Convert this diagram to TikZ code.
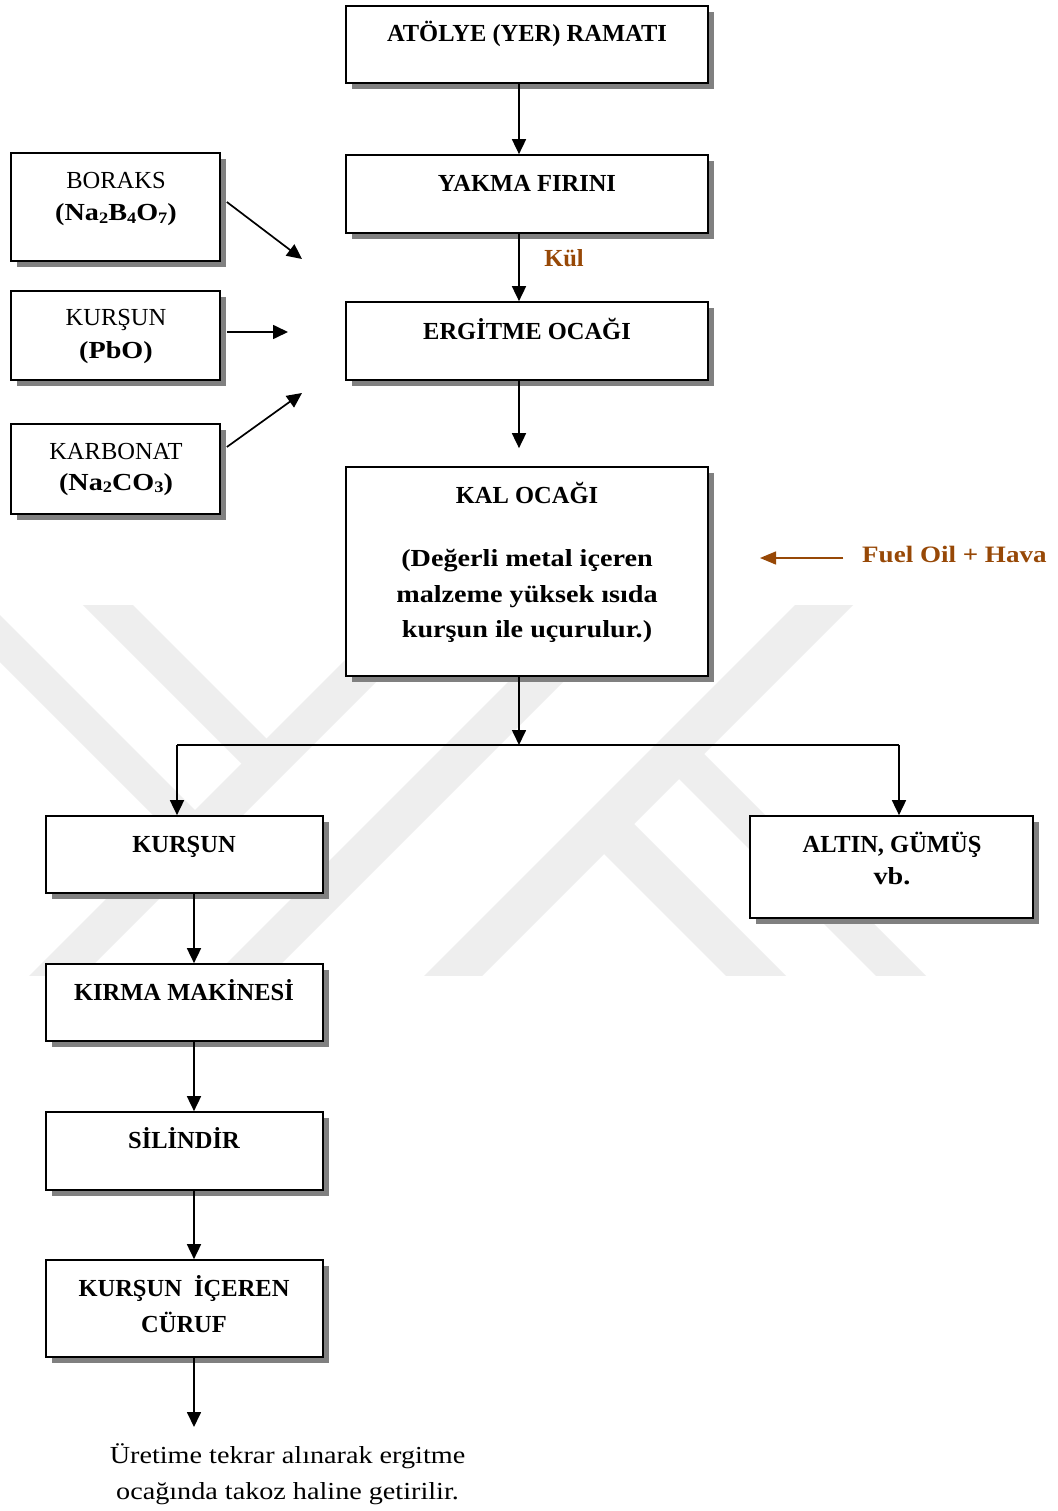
\documentclass[tikz,border=0pt]{standalone}
\usepackage{fontspec}
\setmainfont{Liberation Serif}
\newfontfamily\widefont[FakeStretch=1.15]{Liberation Serif}
\usetikzlibrary{arrows.meta,shadows}
\definecolor{wm}{HTML}{EEEEEE}
\definecolor{shade}{HTML}{808080}
\definecolor{kulbrown}{HTML}{974806}
\newcommand\sbs[1]{\raisebox{-0.1em}{\fontsize{16}{16}\selectfont #1}}
\begin{document}
\begin{tikzpicture}[x=1pt,y=-1pt,
  box/.style={draw=black, line width=1.7pt, fill=white, inner sep=0pt,
    drop shadow={shadow xshift=6pt, shadow yshift=-6pt, fill=shade, opacity=1}},
  bt/.style={font=\fontsize{24.5}{29}\selectfont\bfseries, inner sep=0pt, anchor=base},
  wbt/.style={font=\widefont\fontsize{24.5}{29}\selectfont\bfseries, inner sep=0pt, anchor=base},
  rt/.style={font=\fontsize{24.5}{29}\selectfont, inner sep=0pt, anchor=base},
  wrt/.style={font=\widefont\fontsize{24.5}{29}\selectfont, inner sep=0pt, anchor=base},
  arr/.style={line width=1.7pt, -{Triangle[length=15pt,width=14pt]}},
  wmband/.style={fill=wm}]
\useasboundingbox (0,0) rectangle (1057,1511);
\fill[white] (0,0) rectangle (1057,1511);
% watermark
\begin{scope}
\clip (0,605) rectangle (1057,975);
\fill[wmband] (505,500)--(558,500)--(-42,1100)--(-95,1100)--cycle;
\fill[wmband] (-22,500)--(28,500)--(279,751)--(254,776)--cycle;
\fill[wmband] (-100,515)--(207.5,822.5)--(184,846)--(-100,562)--cycle;
\fill[wmband] (690,500)--(745,500)--(145,1100)--(90,1100)--cycle;
\fill[wmband] (900,500)--(958,500)--(358,1100)--(300,1100)--cycle;
\fill[wmband] (690,740)--(1050,1100)--(1000,1100)--(665,765)--cycle;
\fill[wmband] (620,810)--(910,1100)--(850,1100)--(590,840)--cycle;
\end{scope}
% boxes
\node[box, minimum width=362pt, minimum height=77pt] (atolye) at (527,44.5) {};
\node[box, minimum width=362pt, minimum height=78pt] (yakma) at (527,194) {};
\node[box, minimum width=362pt, minimum height=78pt] (ergitme) at (527,341) {};
\node[box, minimum width=362pt, minimum height=209pt] (kal) at (527,571.5) {};
\node[box, minimum width=209pt, minimum height=108pt] (boraks) at (115.5,207) {};
\node[box, minimum width=209pt, minimum height=89pt] (pbo) at (115.5,335.5) {};
\node[box, minimum width=209pt, minimum height=90pt] (karbonat) at (115.5,469) {};
\node[box, minimum width=277pt, minimum height=77pt] (kursun) at (184.5,854.5) {};
\node[box, minimum width=283pt, minimum height=102pt] (altin) at (891.5,867) {};
\node[box, minimum width=277pt, minimum height=77pt] (kirma) at (184.5,1002.5) {};
\node[box, minimum width=277pt, minimum height=78pt] (silindir) at (184.5,1151) {};
\node[box, minimum width=277pt, minimum height=97pt] (curuf) at (184.5,1308.5) {};
% texts
\node[bt] (tatolye) at (527,42) {ATÖLYE (YER) RAMATI};
\node[bt] (tyakma) at (527,192) {YAKMA FIRINI};
\node[bt] (tergitme) at (527,339) {ERGİTME OCAĞI};
\node[bt] (tkal) at (527,503) {KAL OCAĞI};
\node[wbt] (tkal1) at (527,566) {(Değerli metal içeren};
\node[wbt] (tkal2) at (527,602) {malzeme yüksek ısıda};
\node[wbt] (tkal3) at (527,637) {kurşun ile uçurulur.)};
\node[rt] (tbor1) at (116,189) {BORAKS};
\node[wbt] (tbor2) at (116,221) {(Na\sbs{2}B\sbs{4}O\sbs{7})};
\node[rt] (tpbo1) at (116,326) {KURŞUN};
\node[wbt] (tpbo2) at (116,358) {(PbO)};
\node[rt] (tkar1) at (116,459) {KARBONAT};
\node[wbt] (tkar2) at (116,490) {(Na\sbs{2}CO\sbs{3})};
\node[bt] (tkursun) at (184,852) {KURŞUN};
\node[bt] (taltin1) at (892,852) {ALTIN, GÜMÜŞ};
\node[wbt] (taltin2) at (892,884) {vb.};
\node[bt] (tkirma) at (184,1000) {KIRMA MAKİNESİ};
\node[bt] (tsilindir) at (184,1148) {SİLİNDİR};
\node[bt] (tcuruf1) at (184,1296) {KURŞUN\ \ İÇEREN};
\node[bt] (tcuruf2) at (184,1332) {CÜRUF};
\node[bt, text=kulbrown] (kul) at (564,267) {Kül};
\node[wbt, text=kulbrown, anchor=base west, font=\widefont\fontsize{23.5}{28}\selectfont\bfseries] (fuel) at (862,562) {Fuel Oil + Hava};
\node[wrt] (ret1) at (287.5,1463) {Üretime tekrar alınarak ergitme};
\node[wrt] (ret2) at (287.5,1499) {ocağında takoz haline getirilir.};
% connectors
\draw[arr] ([xshift=-8pt]atolye.south) -- ([xshift=-8pt]yakma.north);
\draw[arr] ([xshift=-8pt]yakma.south) -- ([xshift=-8pt]ergitme.north);
\draw[arr] ([xshift=-8pt]ergitme.south) -- ([xshift=-8pt,yshift=18pt]kal.north);
\coordinate (br) at (519,745);
\coordinate (brl) at (177,745);
\coordinate (brr) at (899,745);
\draw[arr] ([xshift=-8pt]kal.south) -- (br);
\draw[line width=1.5pt] (brl) -- (brr);
\draw[arr] (brl) -- (brl |- kursun.north);
\draw[arr] (brr) -- (brr |- altin.north);
\draw[arr] ([xshift=9.5pt]kursun.south) -- ([xshift=9.5pt]kirma.north);
\draw[arr] ([xshift=9.5pt]kirma.south) -- ([xshift=9.5pt]silindir.north);
\draw[arr] ([xshift=9.5pt]silindir.south) -- ([xshift=9.5pt]curuf.north);
\coordinate (cend) at (194,1427);
\draw[arr] ([xshift=9.5pt]curuf.south) -- (cend);
\coordinate (bortip) at (302,259);
\coordinate (pbotip) at (288,332);
\coordinate (kartip) at (302,393);
\draw[arr] ([xshift=6pt,yshift=5pt]boraks.east) -- (bortip);
\draw[arr] ([xshift=6pt,yshift=3.5pt]pbo.east) -- (pbotip);
\draw[arr] ([xshift=6pt,yshift=22pt]karbonat.east) -- (kartip);
\coordinate (fuelstart) at (843,558);
\coordinate (fueltip) at (760,558);
\draw[draw=kulbrown, fill=kulbrown, line width=1.5pt, -{Triangle[length=16pt,width=13pt]}] (fuelstart) -- (fueltip);
\end{tikzpicture}
\end{document}
